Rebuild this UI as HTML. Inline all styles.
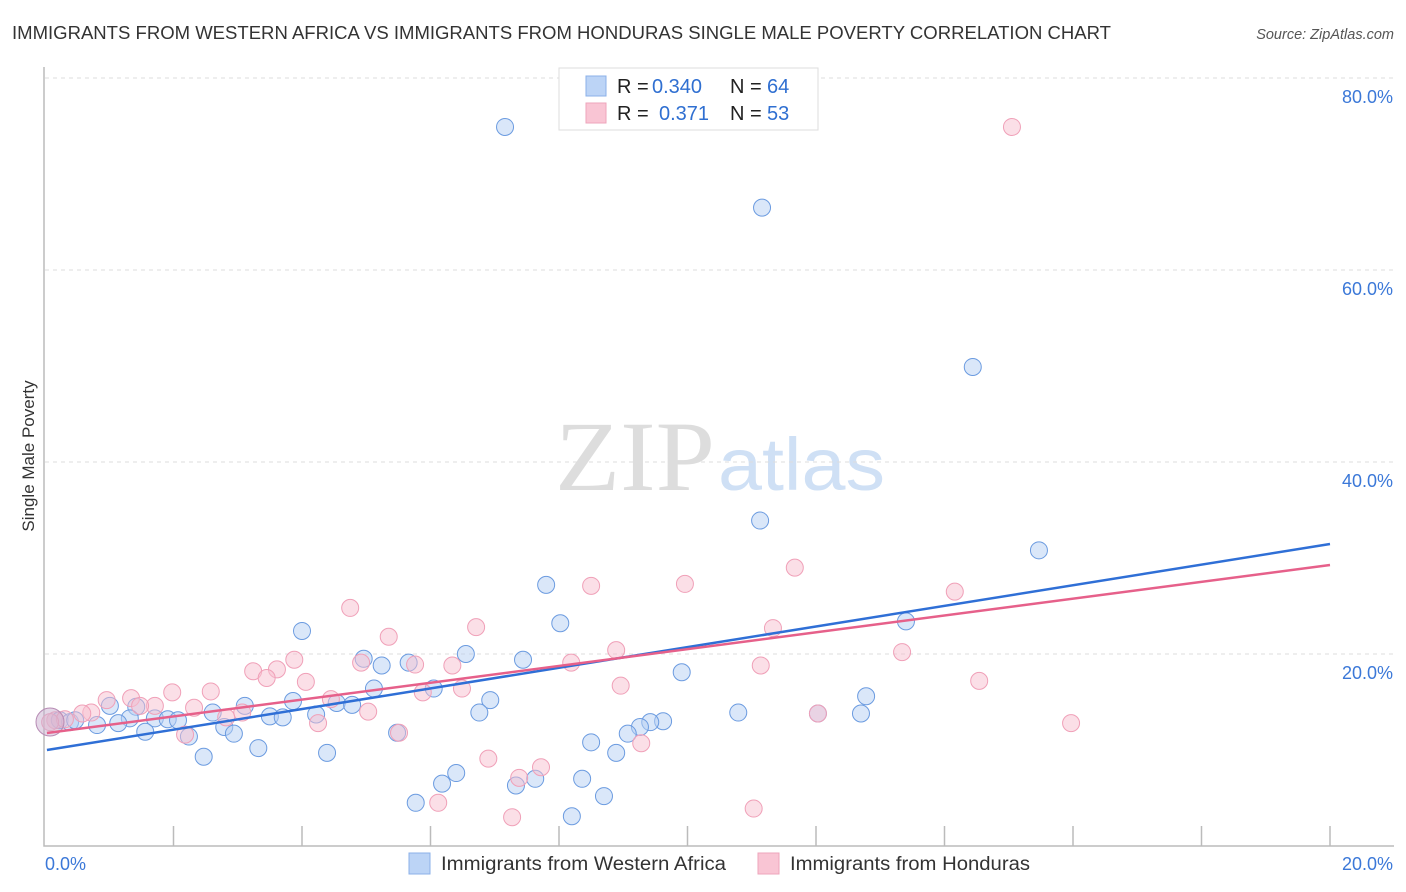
<!DOCTYPE html>
<html><head><meta charset="utf-8"><style>
body{margin:0;background:#fff;font-family:"Liberation Sans",sans-serif}
svg{display:block}
</style></head><body>
<svg id="c" width="1406" height="892">
<text x="12" y="39" font-size="18" fill="#333" textLength="1099" lengthAdjust="spacingAndGlyphs">IMMIGRANTS FROM WESTERN AFRICA VS IMMIGRANTS FROM HONDURAS SINGLE MALE POVERTY CORRELATION CHART</text>
<text x="1394" y="39" font-size="14.5" fill="#555" font-style="italic" text-anchor="end">Source: ZipAtlas.com</text>
<text x="555" y="490" font-size="100" fill="#ddd" textLength="160" lengthAdjust="spacingAndGlyphs" font-family="Liberation Serif,serif">ZIP</text>
<text x="718" y="490" font-size="74" fill="#cfe0f5" textLength="167" lengthAdjust="spacingAndGlyphs">atlas</text>
<text transform="translate(34,456) rotate(-90)" font-size="17" fill="#333" text-anchor="middle">Single Male Poverty</text>
<g id="grid"></g><g id="pts"></g><g id="lines"></g>
<g>
<rect x="559" y="68" width="259" height="62" fill="#fff" stroke="#ddd"/>
<rect x="586" y="76" width="20" height="20" fill="#bcd4f6" stroke="#8bb0e8"/>
<rect x="586" y="103" width="20" height="20" fill="#f9c5d4" stroke="#eea5bb"/>
<text x="617" y="93" font-size="20" fill="#222">R = <tspan x="652" fill="#2f6fd1">0.340</tspan><tspan x="730">N = </tspan><tspan x="767" fill="#2f6fd1">64</tspan></text>
<text x="617" y="120" font-size="20" fill="#222">R = <tspan x="659" fill="#2f6fd1">0.371</tspan><tspan x="730">N = </tspan><tspan x="767" fill="#2f6fd1">53</tspan></text>
</g>
<g>
<rect x="409" y="853" width="21" height="21" fill="#bcd4f6" stroke="#8bb0e8"/>
<text x="441" y="870" font-size="19" fill="#333" textLength="285" lengthAdjust="spacingAndGlyphs">Immigrants from Western Africa</text>
<rect x="758" y="853" width="21" height="21" fill="#f9c5d4" stroke="#eea5bb"/>
<text x="790" y="870" font-size="19" fill="#333" textLength="240" lengthAdjust="spacingAndGlyphs">Immigrants from Honduras</text>
</g>
</svg>
<script>
const yTicks=[20,40,60,80];
const xTickLabels=["0.0%","20.0%"];
const blueX=[7.16,11.16,14.44,11.13,15.47,7.8,8.02,13.4,4.0,7.44,6.55,4.96,5.24,5.66,9.91,12.78,6.05,5.12,3.86,6.93,4.54,4.78,3.11,2.61,1.42,1.01,3.5,3.7,4.22,6.76,10.79,12.7,12.03,1.71,1.91,2.07,1.32,1.14,0.81,0.23,0.39,0.47,1.56,2.79,2.94,2.24,5.48,9.62,9.42,9.26,9.07,8.5,8.89,3.32,4.39,2.47,6.4,6.18,8.36,7.63,7.33,8.7,5.77,8.2];
const blueY=[74.9,66.5,49.9,33.9,30.8,27.2,23.2,23.4,22.4,19.4,20.0,19.5,18.8,19.1,18.1,15.6,16.4,16.4,15.1,15.2,14.9,14.7,14.6,13.9,14.5,14.6,13.5,13.4,13.7,13.9,13.9,13.8,13.8,13.3,13.2,13.1,13.3,12.8,12.6,13.1,12.9,13.1,11.9,12.4,11.7,11.4,11.8,13.0,12.9,12.4,11.7,10.8,9.7,10.2,9.7,9.3,7.6,6.5,7.0,7.0,6.3,5.2,4.5,3.1];
const pinkX=[15.05,11.67,8.5,9.96,14.16,4.75,5.35,6.71,11.33,8.89,13.34,8.19,4.92,3.88,5.76,6.34,3.61,3.24,11.14,14.54,3.45,4.06,2.58,8.96,1.98,6.49,1.34,0.96,4.45,1.71,2.32,5.03,5.88,3.07,0.72,2.82,0.58,4.25,0.16,0.31,0.08,12.03,15.97,5.51,2.18,9.28,6.9,7.72,7.38,6.12,11.03,7.27,1.48];
const pinkY=[74.9,29.0,27.1,27.3,26.5,24.8,21.8,22.8,22.7,20.4,20.2,19.1,19.1,19.4,18.9,18.8,18.4,18.2,18.8,17.2,17.5,17.1,16.1,16.7,16.0,16.4,15.4,15.2,15.3,14.6,14.4,14.0,16.0,13.9,13.9,13.4,13.8,12.8,13.1,13.2,12.9,13.8,12.8,11.8,11.6,10.7,9.1,8.2,7.1,4.5,3.9,3.0,14.6];
const blueFit=[10.0,31.46], pinkFit=[11.77,29.27];
const X=v=>45+v*64.25, Y=v=>846-v*9.6;
const NS="http://www.w3.org/2000/svg";
function mk(t,a,p){const e=document.createElementNS(NS,t);for(const k in a)e.setAttribute(k,a[k]);p.appendChild(e);return e;}
const g=document.getElementById('grid');
yTicks.forEach(t=>{
 const l=mk('line',{x1:45,x2:1394,y1:Y(t),y2:Y(t),stroke:'#ddd','stroke-dasharray':'4,4'},g);
 
 
 const tx=mk('text',{x:1393,y:Y(t)+25,'font-size':18,fill:'#3b78d8','text-anchor':'end'},g);
 tx.textContent=t.toFixed(1)+'%';
 
 
});
const ax=mk('path',{d:'M44,67 V846 H1394',fill:'none',stroke:'#bbb','stroke-width':1.5},g);


for(let i=1;i<=10;i++){
 const t=mk('line',{x1:X(i*2),x2:X(i*2),y1:826,y2:846,stroke:'#bbb','stroke-width':1.5},g);
 
 
}
[[45,'start',0],[1393,'end',1]].forEach(([x,a,i])=>{
 const t=mk('text',{x:x,y:870,'font-size':18,fill:'#3b78d8','text-anchor':a},g);
 t.textContent=xTickLabels[i];
 
 
});
const p=document.getElementById('pts');
function draw(xs,ys,fill,stroke,name){
 xs.forEach((x,i)=>{
  const c=mk('circle',{cx:X(x),cy:Y(ys[i]),r:8.5,fill:fill,'fill-opacity':0.5,stroke:stroke,'stroke-width':1},p);
  
  
 });
}
draw(blueX,blueY,'#b5cff3','#6b9be0','point-western-africa');
draw(pinkX,pinkY,'#f7bfd0','#f0a0b8','point-honduras');
const big=mk('circle',{cx:50,cy:722,r:14,fill:'#c9b0cf','fill-opacity':0.5,stroke:'#b78bb4'},p);


const L=document.getElementById('lines');
const bl=mk('line',{x1:X(0.03),y1:Y(blueFit[0]),x2:X(20),y2:Y(blueFit[1]),stroke:'#2f6fd6','stroke-width':2.5},L);


const pl=mk('line',{x1:X(0.03),y1:Y(pinkFit[0]),x2:X(20),y2:Y(pinkFit[1]),stroke:'#e6608a','stroke-width':2.5},L);


</script>
</body></html>
